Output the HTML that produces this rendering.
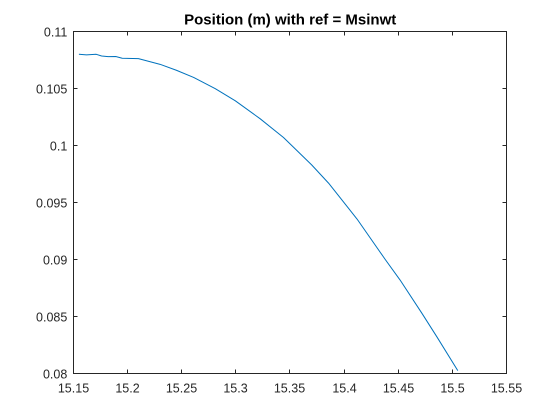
<!DOCTYPE html>
<html>
<head>
<meta charset="utf-8">
<style>
html,body{margin:0;padding:0;background:#fff;width:560px;height:420px;overflow:hidden}
svg{display:block}
text{font-family:"Liberation Sans",Arial,sans-serif;fill:#262626}
</style>
</head>
<body>
<svg id="chart" width="560" height="420" viewBox="0 0 560 420" xmlns="http://www.w3.org/2000/svg">
<rect x="73.5" y="31.5" width="433" height="342" fill="#fff"/>
<text x="290.2" y="24.5" text-anchor="middle" font-size="15" font-weight="700" style="fill:#000">Position (m) with ref = Msinwt</text>
<g id="ticks"></g>
<path id="series" fill="none" stroke="#0072BD" stroke-width="1" stroke-linejoin="round"/>
<rect x="73.5" y="31.5" width="433" height="342" fill="none" stroke="#262626" stroke-width="1"/>
</svg>
<script>
const timeValues = [15.155,15.162,15.171,15.176,15.182,15.189,15.195,15.21,15.23,15.245,15.261,15.281,15.2995,15.3225,15.344,15.37,15.3856,15.404,15.412,15.438,15.4517,15.4718,15.4856,15.505];
const positionValues = [0.1080,0.10795,0.1080,0.10785,0.1078,0.10781,0.10765,0.10762,0.10712,0.1066,0.10597,0.10498,0.10392,0.10234,0.1007,0.0983,0.0967,0.0945,0.09354,0.0900,0.0882,0.08529,0.08323,0.08025];
const xTickValues = [15.15,15.2,15.25,15.3,15.35,15.4,15.45,15.5,15.55];
const xTickLabels = ["15.15","15.2","15.25","15.3","15.35","15.4","15.45","15.5","15.55"];
const yTickValues = [0.08,0.085,0.09,0.095,0.1,0.105,0.11];
const yTickLabels = ["0.08","0.085","0.09","0.095","0.1","0.105","0.11"];

const plotLeft = 73.5, plotRight = 506.5, plotTop = 31.5, plotBottom = 373.5;
const xMin = 15.15, xMax = 15.55, yMin = 0.08, yMax = 0.11;
function xScale(v){ return plotLeft + (v - xMin) / (xMax - xMin) * (plotRight - plotLeft); }
function yScale(v){ return plotBottom - (v - yMin) / (yMax - yMin) * (plotBottom - plotTop); }

const NS = "http://www.w3.org/2000/svg";
const tickGroup = document.getElementById("ticks");
function addLine(x1, y1, x2, y2){
  const l = document.createElementNS(NS, "line");
  l.setAttribute("x1", x1);
  l.setAttribute("y1", y1);
  l.setAttribute("x2", x2);
  l.setAttribute("y2", y2);
  l.setAttribute("stroke", "#262626");
  l.setAttribute("stroke-width", "1");
  
  
  tickGroup.appendChild(l);
}
function addLabel(x, y, anchor, str, name){
  const t = document.createElementNS(NS, "text");
  t.setAttribute("x", x);
  t.setAttribute("y", y);
  t.setAttribute("text-anchor", anchor);
  t.setAttribute("font-size", "12.5");
  t.textContent = str;
  
  
  tickGroup.appendChild(t);
}
xTickValues.forEach(function(v, i){
  const x = Math.round(xScale(v) - 0.5) + 0.5;
  addLine(x, plotBottom, x, plotBottom - 4);
  addLine(x, plotTop, x, plotTop + 4);
  addLabel(x, 392.3, "middle", xTickLabels[i], "x-tick-label");
});
yTickValues.forEach(function(v, i){
  const y = Math.round(yScale(v) - 0.5) + 0.5;
  addLine(plotLeft, y, plotLeft + 4, y);
  addLine(plotRight, y, plotRight - 4, y);
  addLabel(67.3, y + 5, "end", yTickLabels[i], "y-tick-label");
});
document.getElementById("series").setAttribute("d", timeValues.map(function(v, i){
  return (i ? "L" : "M") + xScale(v).toFixed(2) + " " + yScale(positionValues[i]).toFixed(2);
}).join(" "));
</script>
</body>
</html>
